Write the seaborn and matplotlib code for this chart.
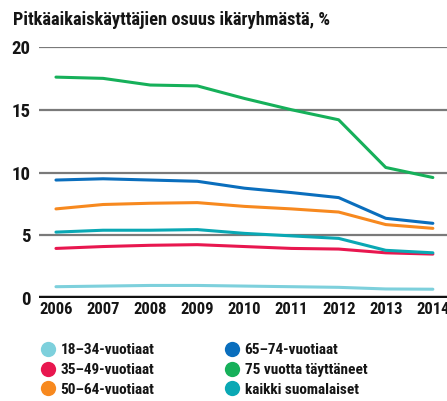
import matplotlib
matplotlib.use("Agg")
import matplotlib.pyplot as plt
from matplotlib.lines import Line2D
import seaborn as sns
import pandas as pd
from matplotlib import font_manager

years = [2006, 2007, 2008, 2009, 2010, 2011, 2012, 2013, 2014]
g18_34 = [0.9, 0.95, 1.0, 1.0, 0.95, 0.9, 0.85, 0.72, 0.7]
g35_49 = [3.95, 4.1, 4.2, 4.25, 4.1, 3.95, 3.9, 3.6, 3.5]
g50_64 = [7.1, 7.45, 7.55, 7.6, 7.3, 7.1, 6.85, 5.85, 5.55]
g65_74 = [9.4, 9.5, 9.4, 9.3, 8.75, 8.4, 8.0, 6.35, 5.95]
g75 = [17.6, 17.5, 16.97, 16.9, 15.9, 15.0, 14.2, 10.4, 9.6]
kaikki = [5.25, 5.4, 5.4, 5.45, 5.15, 4.95, 4.75, 3.8, 3.6]

series_names = ["18–34-vuotiaat", "35–49-vuotiaat", "50–64-vuotiaat",
                "65–74-vuotiaat", "75 vuotta täyttäneet", "kaikki suomalaiset"]
series_values = [g18_34, g35_49, g50_64, g65_74, g75, kaikki]
colors = ["#7dd0dc", "#e8174f", "#f7891f", "#0a6ebd", "#16b05a", "#0aa8b4"]
yticks = [0, 5, 10, 15, 20]
title = "Pitkäaikaiskäyttäjien osuus ikäryhmästä, %"

rows = []
for name, vals in zip(series_names, series_values):
    for y, v in zip(years, vals):
        rows.append({"year": y, "value": v, "group": name})
df = pd.DataFrame(rows)

sns.set_style("white")
avail = {f.name for f in font_manager.fontManager.ttflist}
fam = "Roboto"
for cand in ["Roboto Condensed", "Liberation Sans Narrow", "Open Sans Condensed", "Roboto"]:
    if cand in avail:
        fam = cand
        break
plt.rcParams["font.family"] = [fam, "DejaVu Sans"]
plt.rcParams["text.color"] = "#151515"
plt.rcParams["xtick.color"] = "#151515"
plt.rcParams["ytick.color"] = "#151515"

fig = plt.figure(figsize=(4.47, 4.01), dpi=100)
ax = fig.add_axes([39 / 447, 1 - 298 / 401, 1 - 39 / 447, (298 - 47) / 401])

for yv in yticks[1:]:
    ax.axhline(yv, color="#7a7a7a", lw=1.6, zorder=1)
ax.axhline(0, color="#111111", lw=3.2, zorder=3)

sns.lineplot(data=df, x="year", y="value", hue="group", hue_order=series_names,
             palette=colors, lw=2.2, legend=False, ax=ax, zorder=2)

ax.set_xlim(2005.64, 2014.3)
ax.set_ylim(0, 20)
ax.set_xticks(years)
ax.set_xticklabels([str(y) for y in years], fontsize=12, fontweight="black")
ax.set_yticks(yticks)
ax.set_yticklabels([str(y) for y in yticks], fontsize=13.5, fontweight="black")
ax.tick_params(axis="both", length=0, pad=3)
ax.tick_params(axis="y", pad=6)
for s in ax.spines.values():
    s.set_visible(False)
ax.set_xlabel("")
ax.set_ylabel("")
ax.grid(False)

fig.text(13 / 447, 1 - 20 / 401, title, fontsize=13.2, fontweight="black",
         va="center", ha="left")

handles = [Line2D([0], [0], marker="o", color="none", markerfacecolor=c,
                  markeredgecolor="none", markersize=11) for c in colors]
fig.legend(handles, series_names, ncol=2, loc="upper left",
           bbox_to_anchor=(33 / 447, 1 - 337 / 401), frameon=False,
           handletextpad=0.2, columnspacing=4.5,
           labelspacing=0.38, handlelength=1.2, borderaxespad=0,
           prop={"weight": "black", "size": 11})

fig.savefig("out.png", dpi=100)
